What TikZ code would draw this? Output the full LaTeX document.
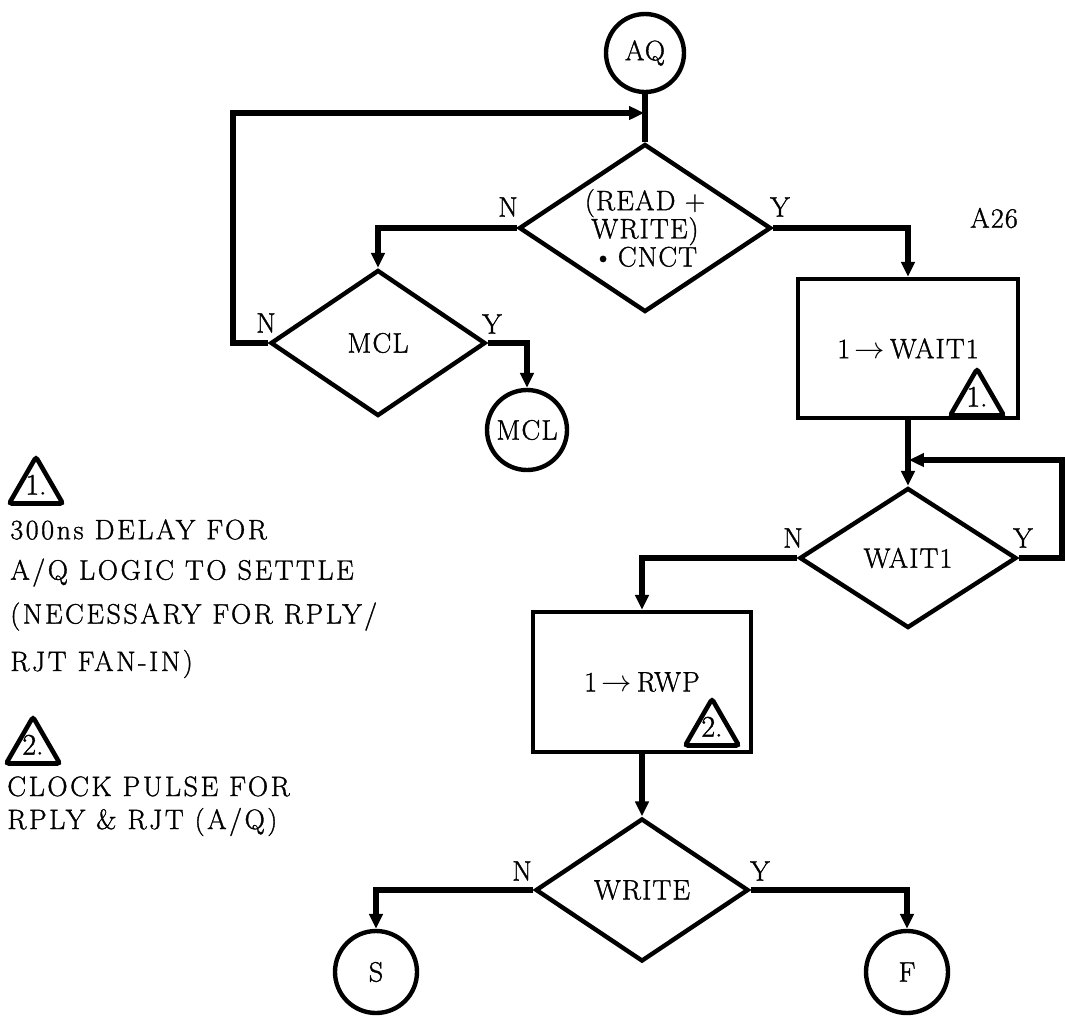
\documentclass[tikz,border=0pt]{standalone}
\usepackage{fontspec}
\setmainfont{Latin Modern Roman}[LetterSpace=4,FakeBold=1.2]
\usetikzlibrary{shapes.geometric,arrows.meta}
\newcommand{\pxu}{0.02cm}
\newcommand{\trimark}[1]{\makebox[0pt]{\smash{\raisebox{-0.22em}{#1}}}}
\begin{document}
\begin{tikzpicture}[x=0.02cm,y=-0.02cm,
  font=\fontsize{16}{16}\selectfont,
  shp/.style={draw, line width=2.5pt, inner sep=0pt},
  term/.style={shp, circle, minimum size=78*\pxu},
  dec/.style={shp, diamond, align=center},
  proc/.style={shp, rectangle},
  tri/.style={draw, line width=2.6pt, regular polygon, regular polygon sides=3,
    minimum size=62*\pxu, inner sep=0pt, rounded corners=1.5pt,
    font=\fontsize{17}{17}\selectfont\addfontfeatures{LetterSpace=0}},
  lbl/.style={inner sep=0pt},
  note/.style={lbl, anchor=north west, align=left,
    font=\fontsize{16}{16}\selectfont\addfontfeatures{LetterSpace=9}},
  conn/.style={line width=3.2pt},
  arr/.style={conn, -{Triangle[length=8.5pt,width=7.5pt]}},
]
\useasboundingbox (0,0) rectangle (1065,1028);

% nodes
\node[term] (aq) at (645,53) {AQ};
\node[dec, minimum width=252*\pxu, minimum height=168*\pxu, aspect=1.5] (d1) at (645,228)
  {(READ\,\,+\\WRITE)\\\textbullet\,CNCT};
\node[dec, minimum width=215*\pxu, minimum height=146*\pxu, aspect=1.47] (mcl) at (378,343) {MCL};
\node[term, minimum size=80*\pxu] (mclc) at (527,430) {MCL};
\node[proc, minimum width=220*\pxu, minimum height=139*\pxu] (b1) at (908,348.5) {1\,$\rightarrow$\,WAIT1};
\node[tri] (t1) at (977,400) {\trimark{1.}};
\node[dec, minimum width=217*\pxu, minimum height=140*\pxu, aspect=1.55] (w1) at (908,558) {WAIT1};
\node[proc, minimum width=218*\pxu, minimum height=140*\pxu] (b2) at (642,682) {1\,$\rightarrow$\,RWP};
\node[tri] (t2) at (712,730) {\trimark{2.}};
\node[dec, minimum width=213*\pxu, minimum height=143*\pxu, aspect=1.49] (wr) at (642,890) {WRITE};
\node[term, minimum size=82*\pxu] (s) at (376,972) {S};
\node[term, minimum size=82*\pxu] (f) at (907,972) {F};

% branch labels
\node[lbl] (n1) at (508,207) {N};
\node[lbl] (y1) at (780,207) {Y};
\node[lbl] (n2) at (266,323) {N};
\node[lbl] (y2) at (492,324) {Y};
\node[lbl] (n3) at (793,538) {N};
\node[lbl] (y3) at (1023,538) {Y};
\node[lbl] (n4) at (522,871) {N};
\node[lbl] (y4) at (760,871) {Y};
\node[lbl] (a26) at (994,218) {A26};

% notes
\node[tri] (nt1) at (36,488) {\trimark{1.}};
\node[note] (note1) at (10,519)
  {300ns DELAY FOR\\[7pt]A/Q LOGIC TO SETTLE\\[9pt](NECESSARY FOR RPLY/\\[11pt]RJT FAN-IN)};
\node[tri] (nt2) at (33,748) {\trimark{2.}};
\node[note] (note2) at (7,776)
  {CLOCK PULSE FOR\\[2.8pt]RPLY \& RJT (A/Q)};

% connectors
\coordinate (j1) at (644,113);
\coordinate (c1) at (233,113);
\coordinate (j2) at (909,460);
\coordinate (c2) at (1062,460);
\draw[conn] (aq.south) -- (d1.north);
\draw[arr] (mcl.west) -| (c1) -- (j1);
\draw[arr] (d1.west) -| (mcl.north);
\draw[arr] (mcl.east) -| (mclc.north);
\draw[arr] (d1.east) -| (b1.north);
\draw[arr] (b1.south) -- (w1.north);
\draw[arr] (w1.east) -| (c2) -- (j2);
\draw[arr] (w1.west) -| (b2.north);
\draw[arr] (b2.south) -- (wr.north);
\draw[arr] (wr.west) -| (s.north);
\draw[arr] (wr.east) -| (f.north);
\end{tikzpicture}
\end{document}
